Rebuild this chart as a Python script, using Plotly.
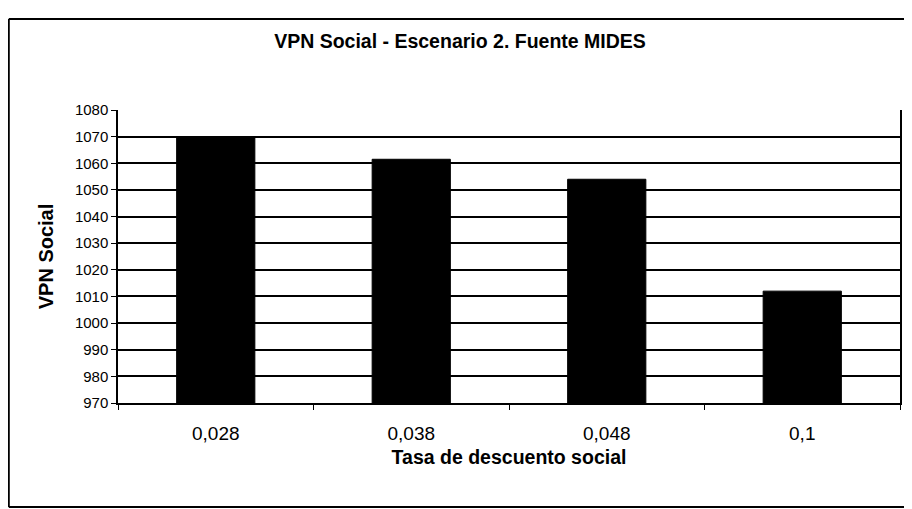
import plotly.graph_objects as go

# Tasa de descuento social vs VPN social (Escenario 2, fuente MIDES)
tasas = ["0,028", "0,038", "0,048", "0,1"]
vpn_social = [1069.5, 1061.5, 1054, 1012]
y_ticks = list(range(970, 1081, 10))

FONT = "Liberation Sans, Arial, sans-serif"

# the page body adds an 8px margin, so the figure is a bit smaller than the window
W, H = 904, 501
L, R, T, B = 110, 10, 102, 106

fig = go.Figure()
fig.add_trace(go.Bar(
    x=tasas,
    y=vpn_social,
    marker=dict(color="black", line=dict(color="black", width=1)),
    width=0.4,
    showlegend=False
))

fig.update_layout(
    width=W,
    height=H,
    margin=dict(l=L, r=R, t=T, b=B),
    paper_bgcolor="white",
    plot_bgcolor="white",
    font=dict(family=FONT, color="black", size=15),
    title=dict(
        text="<b>VPN Social - Escenario 2. Fuente MIDES</b>",
        x=0.5, xanchor="center",
        y=1 - 33 / H, yanchor="middle",
        font=dict(size=19.5, family=FONT)
    ),
    xaxis=dict(
        type="category",
        tickson="boundaries",
        ticks="outside",
        ticklen=5,
        tickcolor="black",
        showline=True,
        linecolor="black",
        linewidth=1.5,
        showgrid=False,
        ticklabelstandoff=12,
        tickfont=dict(size=19),
        title=dict(text="<b>Tasa de descuento social</b>", standoff=8,
                   font=dict(size=19.5))
    ),
    yaxis=dict(
        range=[970, 1080],
        tickvals=y_ticks,
        ticks="outside",
        ticklen=5,
        tickcolor="black",
        showline=True,
        linecolor="black",
        linewidth=1.5,
        mirror=True,
        showgrid=True,
        gridcolor="black",
        gridwidth=1.5,
        zeroline=False,
        tickfont=dict(size=15),
        title=dict(text="<b>VPN Social</b>", standoff=16,
                   font=dict(size=20))
    ),
)

# outer chart frame (open on the right, like the scanned page)
pw, ph = W - L - R, H - T - B
x_left = (0.5 - L) / pw
y_top = (H - B - 11) / ph
y_bot = (H - B - 499) / ph
frame = dict(color="black", width=2)
fig.add_shape(type="line", xref="paper", yref="paper",
              x0=x_left, x1=1.03, y0=y_top, y1=y_top, line=frame)
fig.add_shape(type="line", xref="paper", yref="paper",
              x0=x_left, x1=x_left, y0=y_top, y1=y_bot, line=frame)
fig.add_shape(type="line", xref="paper", yref="paper",
              x0=x_left, x1=1.03, y0=y_bot, y1=y_bot, line=frame)

fig.write_html("out.html")
